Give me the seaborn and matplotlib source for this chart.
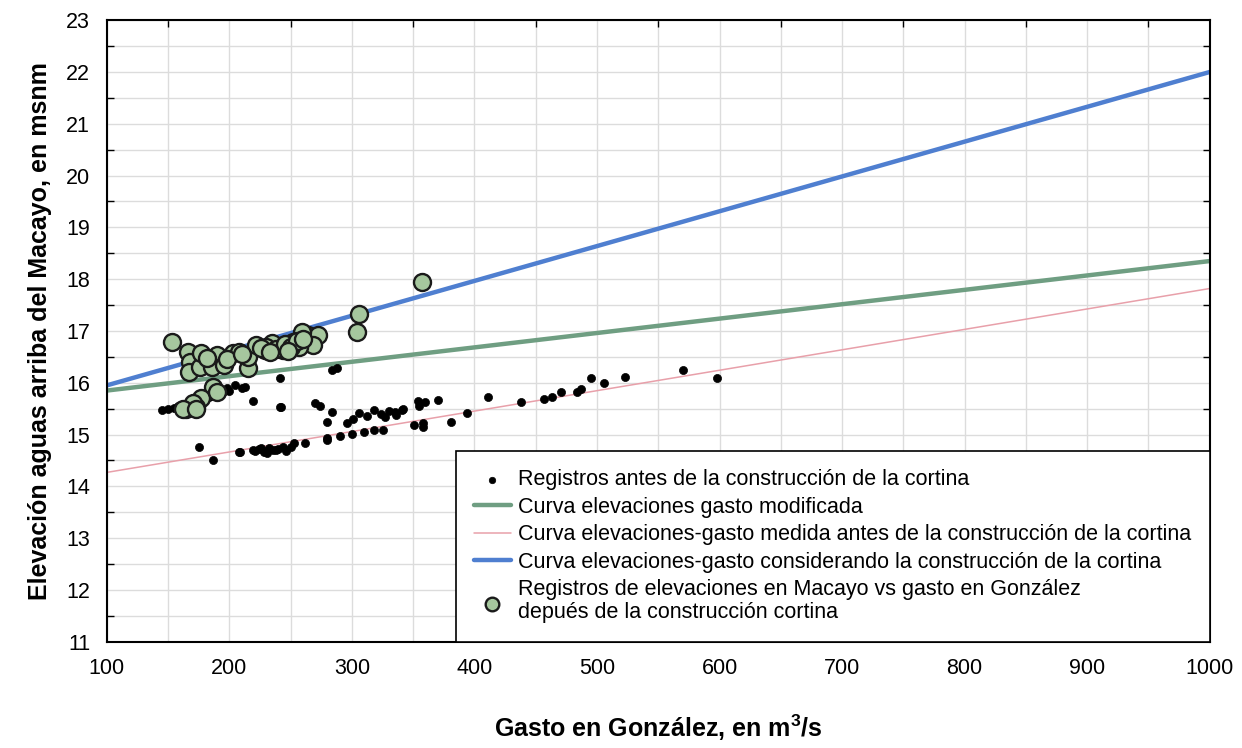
import numpy as np
import pandas as pd
import matplotlib
matplotlib.use("Agg")
import matplotlib.pyplot as plt
import seaborn as sns
from matplotlib.ticker import MultipleLocator

# ---------------- data ----------------
# Registros antes de la construcción de la cortina (gasto, elevación)
antes_x = [145, 150, 155, 158, 162, 165, 168, 170, 172, 175, 178, 180, 183, 185,
           188, 190, 193, 195, 198, 200, 205, 210, 213, 219, 241, 241,
           175, 187, 208, 209, 219, 224, 228, 232, 236, 240, 244, 253, 262, 280,
           284, 280, 296, 270, 274, 284, 288, 242,
           280, 290, 300, 310, 318, 325,
           301, 306, 312, 318, 324, 330, 336, 342, 327, 335, 341,
           351, 354, 355, 358, 360, 370, 358, 381, 394, 411, 438, 457, 463,
           471, 484, 487, 495, 506, 523, 570, 598,
           215, 225, 235, 245, 255, 265, 221, 226, 231, 238, 246, 250]
antes_y = [15.48, 15.50, 15.52, 15.55, 15.55, 15.58, 15.60, 15.55, 15.62, 15.65,
           15.60, 15.70, 15.72, 15.75, 15.78, 15.80, 15.85, 15.82, 15.90, 15.85,
           15.95, 15.90, 15.92, 15.65, 15.53, 16.10,
           14.76, 14.51, 14.67, 14.67, 14.70, 14.72, 14.66, 14.74, 14.70, 14.73,
           14.76, 14.84, 14.84, 14.90,
           15.44, 15.24, 15.22, 15.61, 15.55, 16.25, 16.29, 15.53,
           14.93, 14.98, 15.02, 15.05, 15.08, 15.09,
           15.30, 15.42, 15.36, 15.48, 15.40, 15.45, 15.38, 15.50, 15.34, 15.44, 15.48,
           15.19, 15.65, 15.55, 15.22, 15.62, 15.67, 15.15, 15.24, 15.42, 15.73,
           15.63, 15.69, 15.73, 15.82, 15.82, 15.88, 16.09, 16.00, 16.11, 16.25, 16.10,
           16.55, 16.60, 16.65, 16.72, 16.80, 16.88, 14.68, 14.74, 14.64, 14.71,
           14.69, 14.77]

# Registros de elevaciones en Macayo vs gasto en González (después)
desp_x = [153, 166, 168, 167, 176, 186, 190, 196, 203, 215, 215, 208, 222, 229,
          177, 182, 187, 177, 190, 173, 165, 170, 162, 173,
          264, 272, 268, 259, 252, 244, 235, 257, 306, 304, 357,
          230, 238, 245, 250, 255, 260, 248, 226, 233, 198, 210]
desp_y = [16.79, 16.60, 16.40, 16.21, 16.30, 16.30, 16.54, 16.34, 16.58, 16.29,
          16.50, 16.60, 16.73, 16.63, 16.57, 16.48, 15.92, 15.70, 15.82, 15.53,
          15.50, 15.61, 15.50, 15.50,
          16.92, 16.92, 16.73, 16.98, 16.79, 16.63, 16.77, 16.69, 17.33, 16.98, 17.95,
          16.70, 16.65, 16.75, 16.70, 16.80, 16.85, 16.62, 16.68, 16.60, 16.45, 16.55]

# Curvas elevaciones-gasto
curva_x = [100, 1000]
curva_modificada = [15.85, 18.35]
curva_antes = [14.27, 17.82]
curva_cortina = [15.95, 22.00]

lab_antes = "Registros antes de la construcción de la cortina"
lab_mod = "Curva elevaciones gasto modificada"
lab_medida = "Curva elevaciones-gasto medida antes de la construcción de la cortina"
lab_cort = "Curva elevaciones-gasto considerando la construcción de la cortina"
lab_desp = "Registros de elevaciones en Macayo vs gasto en González\ndepués de la construcción cortina"

# ---------------- plot ----------------
sns.set_theme(style="white")
plt.rcParams['font.family'] = ['Liberation Sans', 'DejaVu Sans']
plt.rcParams['text.color'] = 'black'
plt.rcParams['axes.labelcolor'] = 'black'
plt.rcParams['xtick.color'] = 'black'
plt.rcParams['ytick.color'] = 'black'

fig = plt.figure(figsize=(12.42, 7.48), dpi=100)
ax = fig.add_axes([0.086, 0.142, 0.888, 0.831])

df_a = pd.DataFrame({"x": antes_x, "y": antes_y})
df_d = pd.DataFrame({"x": desp_x, "y": desp_y})
df_l = pd.DataFrame({"x": curva_x, "mod": curva_modificada,
                     "antes": curva_antes, "cort": curva_cortina})

sns.scatterplot(data=df_a, x="x", y="y", ax=ax, color="black", s=34,
                edgecolor="black", linewidth=0.5, zorder=3, label=lab_antes)
sns.lineplot(data=df_l, x="x", y="mod", ax=ax, color="#6f9e82", lw=3.2,
             zorder=2, label=lab_mod)
sns.lineplot(data=df_l, x="x", y="antes", ax=ax, color="#e8a0aa", lw=1.1,
             zorder=2, label=lab_medida)
sns.lineplot(data=df_l, x="x", y="cort", ax=ax, color="#4f7fd0", lw=3.2,
             zorder=2, label=lab_cort)
sns.scatterplot(data=df_d, x="x", y="y", ax=ax, color="#a6c79e", s=150,
                edgecolor="#1a1a1a", linewidth=1.7, zorder=4, label=lab_desp)

ax.set_xlim(100, 1000)
ax.set_ylim(11, 23)
ax.xaxis.set_major_locator(MultipleLocator(100))
ax.xaxis.set_minor_locator(MultipleLocator(50))
ax.yaxis.set_major_locator(MultipleLocator(1))
ax.yaxis.set_minor_locator(MultipleLocator(0.5))
ax.grid(which="both", color="#dcdcdc", lw=1.0, zorder=0)
ax.set_axisbelow(True)

ax.tick_params(axis="both", which="major", direction="out", length=7,
               width=1.2, color="black", labelsize=15.5, pad=5,
               labelcolor="black")
ax.tick_params(axis="y", which="minor", direction="in", length=5, width=1.0,
               color="black", left=True, right=True)
ax.tick_params(axis="x", which="minor", direction="in", length=5, width=1.0,
               color="black", top=True, bottom=False)
for s in ax.spines.values():
    s.set_color("black")
    s.set_linewidth(1.5)

ax.set_xlabel("Gasto en González, en m$^\\mathregular{3}$/s", fontsize=18,
              fontweight="bold", labelpad=24, color="black")
ax.set_ylabel("Elevación aguas arriba del Macayo, en msnm", fontsize=18,
              fontweight="bold", labelpad=10, color="black")

h, l = ax.get_legend_handles_labels()
order = [lab_antes, lab_mod, lab_medida, lab_cort, lab_desp]
hh = [h[l.index(o)] for o in order]
leg = ax.legend(hh, order, loc="lower right", borderaxespad=0, fontsize=15.5,
                frameon=True, fancybox=False, framealpha=1, edgecolor="black",
                handlelength=1.7, handletextpad=0.35, labelspacing=0.3,
                borderpad=0.85, markerscale=0.8)
leg.get_frame().set_linewidth(1.2)
leg.set_zorder(10)
for t in leg.get_texts():
    t.set_color("black")
    t.set_linespacing(1.15)

fig.savefig("out.png", dpi=100)
